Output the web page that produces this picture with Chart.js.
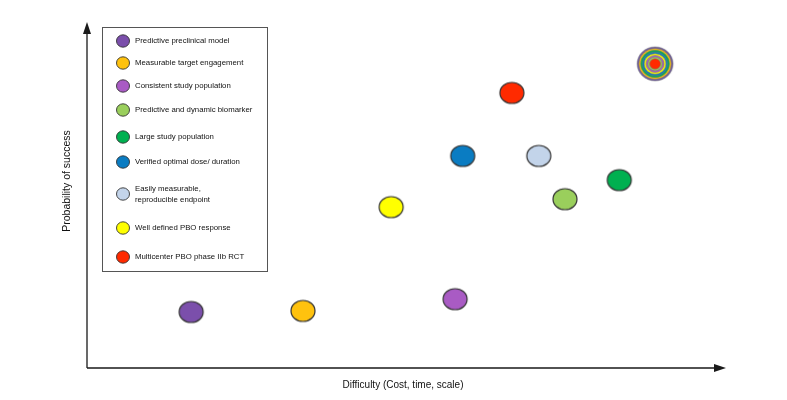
<!DOCTYPE html>
<html>
<head>
<meta charset="utf-8">
<script src="https://cdn.jsdelivr.net/npm/chart.js@4/dist/chart.umd.min.js"></script>
<style>
html,body{margin:0;padding:0;background:#fff;}
#wrap{position:relative;width:787px;height:400px;}
</style>
</head>
<body>
<div id="wrap"><canvas id="c" width="787" height="400"></canvas></div>
<script>
// ---- data ----
const labels = [
  "Predictive preclinical model",
  "Measurable target engagement",
  "Consistent study population",
  "Predictive and dynamic biomarker",
  "Large study population",
  "Verified optimal dose/ duration",
  ["Easily measurable,", "reproducible endpoint"],
  "Well defined PBO response",
  "Multicenter PBO phase IIb RCT"
];
const difficulty  = [1.63, 3.38, 5.76, 7.48, 8.33, 5.88, 7.07, 4.76, 6.65];
const probability = [1.62, 1.65, 1.99, 4.88, 5.43, 6.13, 6.13, 4.65, 7.95];
const colors = ["#7B4FAB", "#FFC20E", "#A95BC4", "#9ACF5C", "#00B050", "#0A7CC2", "#C3D4EA", "#FFFF00", "#FF2A00"];
const targetDifficulty = [8.89];
const targetProbability = [8.79];
const targetRings = ["#6E5A9E", "#FFC20E", "#00B050", "#0A7CC2", "#FFFF00", "#A95BC4", "#9ACF5C", "#FF2A00"];
const xTitle = "Difficulty (Cost, time, scale)";
const yTitle = "Probability of success";

// ---- styles ----
const PAD = 6;
function ellipseImg(color, w, h) {
  const c = document.createElement('canvas');
  c.width = w + PAD * 2; c.height = h + PAD * 2;
  const g = c.getContext('2d');
  g.beginPath();
  g.ellipse(c.width / 2, c.height / 2, w / 2, h / 2, 0, 0, Math.PI * 2);
  g.fillStyle = color; g.fill();
  g.lineWidth = 1.2; g.strokeStyle = '#333'; g.stroke();
  return c;
}
function targetImg(rings, w, h) {
  const c = document.createElement('canvas');
  c.width = w + PAD * 2; c.height = h + PAD * 2;
  const g = c.getContext('2d');
  const cx = c.width / 2, cy = c.height / 2;
  const n = rings.length;
  const rxMin = 5.5, ryMin = 5.2;
  for (let i = 0; i < n; i++) {
    const t = (n - 1 - i) / (n - 1);
    const rx = rxMin + (w / 2 - rxMin) * t;
    const ry = ryMin + (h / 2 - ryMin) * t;
    g.beginPath();
    g.ellipse(cx, cy, rx, ry, 0, 0, Math.PI * 2);
    g.fillStyle = rings[i]; g.fill();
    g.lineWidth = 0.5; g.strokeStyle = '#777'; g.stroke();
  }
  return c;
}

const datasets = labels.map((l, i) => ({
  label: Array.isArray(l) ? l.join(' ') : l,
  data: [{ x: difficulty[i], y: probability[i] }],
  pointStyle: ellipseImg(colors[i], 24, 21),
  backgroundColor: colors[i],
  borderColor: '#333'
}));
datasets.push({
  label: 'target',
  data: targetDifficulty.map((x, i) => ({ x, y: targetProbability[i] })),
  pointStyle: targetImg(targetRings, 36, 34)
});

const legendPlugin = {
  id: 'customLegend',
  afterDraw(chart, args, opts) {
    const g = chart.ctx;
    const a = chart.chartArea;
    g.save();
    // axes with arrows
    g.strokeStyle = '#1a1a1a'; g.fillStyle = '#1a1a1a'; g.lineWidth = 1.3;
    g.beginPath();
    g.moveTo(a.left, a.bottom); g.lineTo(a.left, a.top + 8);
    g.moveTo(a.left, a.bottom); g.lineTo(a.right - 8, a.bottom);
    g.stroke();
    g.beginPath();
    g.moveTo(a.left, a.top); g.lineTo(a.left - 4, a.top + 12); g.lineTo(a.left + 4, a.top + 12); g.closePath(); g.fill();
    g.beginPath();
    g.moveTo(a.right, a.bottom); g.lineTo(a.right - 12, a.bottom - 4); g.lineTo(a.right - 12, a.bottom + 4); g.closePath(); g.fill();
    // axis titles
    g.font = '10px "Liberation Sans", Arial, sans-serif';
    g.textAlign = 'center'; g.textBaseline = 'middle';
    g.fillStyle = '#111';
    g.fillText(xTitle, 403, 385);
    g.save();
    g.translate(67, 181); g.rotate(-Math.PI / 2);
    g.font = '10.5px "Liberation Sans", Arial, sans-serif';
    g.fillText(yTitle, 0, 0);
    g.restore();
    // legend box
    g.lineWidth = 1; g.strokeStyle = '#555';
    g.strokeRect(102.5, 27.5, 165, 244);
    const rows = [41, 63, 86, 110, 137, 162, 194, 228, 257];
    g.font = '7.8px "Liberation Sans", Arial, sans-serif';
    g.textAlign = 'left'; g.fillStyle = '#111';
    labels.forEach((l, i) => {
      const y = rows[i];
      g.beginPath();
      g.ellipse(123, y, 6.5, 6.2, 0, 0, Math.PI * 2);
      g.fillStyle = colors[i]; g.fill();
      g.lineWidth = 0.9; g.strokeStyle = '#333'; g.stroke();
      g.fillStyle = '#111';
      if (Array.isArray(l)) {
        g.fillText(l[0], 135, y - 5);
        g.fillText(l[1], 135, y + 6);
      } else {
        g.fillText(l, 135, y);
      }
    });
    g.restore();
  }
};

new Chart(document.getElementById('c'), {
  type: 'scatter',
  data: { datasets },
  options: {
    responsive: false,
    animation: false,
    layout: { padding: { left: 87, right: 61, top: 22, bottom: 32 } },
    plugins: { legend: { display: false }, tooltip: { enabled: false } },
    scales: {
      x: { type: 'linear', min: 0, max: 10, display: false },
      y: { type: 'linear', min: 0, max: 10, display: false }
    }
  },
  plugins: [legendPlugin]
});
</script>
</body>
</html>
